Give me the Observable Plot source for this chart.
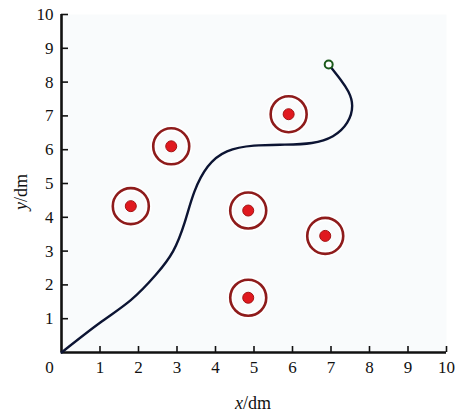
<!DOCTYPE html>
<html>
<head>
<meta charset="utf-8">
<script src="https://cdn.jsdelivr.net/npm/d3@7"></script>
<script src="https://cdn.jsdelivr.net/npm/@observablehq/plot@0.6"></script>
<style>
  html, body { margin: 0; padding: 0; background: #ffffff; }
  #chart svg { display: block; }
</style>
</head>
<body>
<div id="chart"></div>
<script>
// Obstacle centres (dm)
const obstacleX = [1.8, 2.85, 5.9, 4.85, 6.85, 4.85];
const obstacleY = [4.33, 6.1, 7.05, 4.2, 3.45, 1.62];

// Planned path (dm)
const pathX = [0, 1.00, 1.80, 2.45, 2.90, 3.20, 3.45, 3.80, 4.30, 5.00, 5.80, 6.50, 7.05, 7.42, 7.55, 7.45, 7.25, 6.94];
const pathY = [0, 0.88, 1.55, 2.30, 3.00, 3.85, 4.75, 5.50, 5.95, 6.12, 6.15, 6.20, 6.40, 6.80, 7.30, 7.72, 8.07, 8.52];

// Axis ticks
const xTicks = [1, 2, 3, 4, 5, 6, 7, 8, 9, 10];
const yTicks = [1, 2, 3, 4, 5, 6, 7, 8, 9, 10];
const originLabel = [0];

const obstacles = obstacleX.map((x, i) => ({x, y: obstacleY[i]}));
const path = pathX.map((x, i) => ({x, y: pathY[i]}));
const goal = [path[path.length - 1]];

const font = "'Liberation Serif', 'Times New Roman', serif";

const chart = Plot.plot({
  width: 467,
  height: 416,
  marginLeft: 61,
  marginRight: 21,
  marginTop: 14,
  marginBottom: 64,
  style: {fontFamily: font, fontSize: "17px", color: "#111", background: "#ffffff"},
  x: {domain: [0, 10]},
  y: {domain: [0, 10]},
  marks: [
    Plot.frame({fill: "#f9fbfc", stroke: null}),
    // y axis: inward ticks + labels
    Plot.axisY(yTicks, {tickSize: -7, tickFormat: () => "", strokeWidth: 1.6, label: null}),
    Plot.axisY(yTicks, {tickSize: 0, tickPadding: 8, label: null, fontSize: 17, fontFamily: font}),
    // x axis: inward ticks + labels
    Plot.axisX(xTicks, {tickSize: -6, tickFormat: () => "", strokeWidth: 1.6, label: null}),
    Plot.axisX(xTicks, {tickSize: 0, tickPadding: 8, label: null, fontSize: 17, fontFamily: font}),
    Plot.axisX(originLabel, {tickSize: 0, tickPadding: 8, dx: -12, label: null, fontSize: 17, fontFamily: font}),
    // axis lines
    Plot.ruleX([0], {stroke: "#111", strokeWidth: 2.6}),
    Plot.ruleY([0], {stroke: "#111", strokeWidth: 2.6}),
    // obstacles
    Plot.dot(obstacles, {x: "x", y: "y", r: 18, stroke: "#ffffff", strokeWidth: 6, fill: "none"}),
    Plot.dot(obstacles, {x: "x", y: "y", r: 18, stroke: "#8e1b1b", strokeWidth: 2.6, fill: "none"}),
    Plot.dot(obstacles, {x: "x", y: "y", r: 5.5, fill: "#e0191f", stroke: "#a31414", strokeWidth: 1}),
    // path
    Plot.line(path, {x: "x", y: "y", curve: "natural", stroke: "#0c1433", strokeWidth: 2.4}),
    Plot.dot(goal, {x: "x", y: "y", r: 4, fill: "#ffffff", stroke: "#1c5a1c", strokeWidth: 2})
  ]
});

// Axis titles as real text
const svg = d3.select(chart);
const xt = svg.append("text")
  .attr("x", 253).attr("y", 409)
  .attr("text-anchor", "middle")
  .attr("font-family", font).attr("font-size", 18).attr("fill", "#111");
xt.append("tspan").attr("font-style", "italic").text("x");
xt.append("tspan").text("/dm");

const yt = svg.append("text")
  .attr("transform", "translate(27,192) rotate(-90)")
  .attr("text-anchor", "middle")
  .attr("font-family", font).attr("font-size", 18).attr("fill", "#111");
yt.append("tspan").attr("font-style", "italic").text("y");
yt.append("tspan").text("/dm");

document.getElementById("chart").appendChild(chart);
</script>
</body>
</html>
